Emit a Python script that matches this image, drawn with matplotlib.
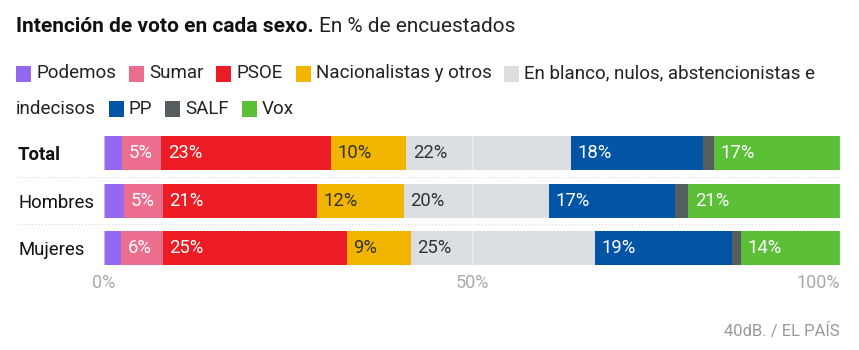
import matplotlib
matplotlib.use("Agg")
import matplotlib.pyplot as plt
from matplotlib.patches import Rectangle

plt.rcParams['font.family'] = ['Roboto', 'DejaVu Sans']

# ---- data ----
groups = ["Total", "Hombres", "Mujeres"]
parties = ["Podemos", "Sumar", "PSOE", "Nacionalistas y otros",
           "En blanco, nulos, abstencionistas e indecisos", "PP", "SALF", "Vox"]
colors = ["#9468f0", "#ec6e8f", "#ec1c24", "#f1b500",
          "#dcdfe2", "#0254a4", "#565d5f", "#5bbf37"]
total = [2.4, 5.4, 23.0, 10.3, 22.4, 17.9, 1.5, 17.1]
hombres = [2.7, 5.3, 20.9, 11.8, 19.8, 17.1, 1.8, 20.6]
mujeres = [2.3, 5.7, 25.0, 8.7, 25.0, 18.6, 1.2, 13.5]
values = [total, hombres, mujeres]
ticks = [0, 50, 100]
tick_labels = ["0%", "50%", "100%"]
title_bold = "Intención de voto en cada sexo."
title_rest = "En % de encuestados"
source = "40dB. / EL PAÍS"

W, H = 859, 350
fig = plt.figure(figsize=(W / 100, H / 100), dpi=100)
fig.patch.set_facecolor("white")


def fx(px):
    return px / W


def fy(py):
    return 1 - py / H


ax_top, ax_bot = 130, 272
ax = fig.add_axes([fx(104), fy(ax_bot), fx(840) - fx(104), fy(ax_top) - fy(ax_bot)])
row_step = 47.5
first_center = 153
ax.set_xlim(0, 100)
ax.set_ylim(2 + (ax_bot - (first_center + 2 * row_step)) / row_step,
            -(first_center - ax_top) / row_step)

LABEL_FS = 13.3
dark_text = {"#f1b500", "#dcdfe2"}
for i, row in enumerate(values):
    left = 0
    for v, c in zip(row, colors):
        ax.barh(i, v, left=left, height=34 / row_step, color=c, linewidth=0, zorder=2)
        if v >= 3:
            tc = "#333333" if c in dark_text else "white"
            ax.text(left + 0.9, i, f"{v:.0f}%", ha="left", va="center",
                    color=tc, fontsize=LABEL_FS, zorder=4)
        left += v

for t in ticks:
    ax.axvline(t, color="white", alpha=0.45, lw=1, zorder=3)

for yv in [0.5, 1.5]:
    ax.plot([-11.7, 100], [yv, yv], color="#d8d8d8", lw=0.8,
            linestyle=(0, (1, 2)), clip_on=False, zorder=1)

for s in ax.spines.values():
    s.set_visible(False)
ax.set_xticks(ticks, tick_labels)
ax.tick_params(axis="x", length=0, pad=1.5, labelsize=13, labelcolor="#aaaaaa")
xl = ax.get_xticklabels()
xl[-1].set_ha("right")
ax.set_yticks(range(len(groups)), groups)
ax.tick_params(axis="y", length=0, pad=(104 - 18) * 0.72, labelsize=13.3,
               labelcolor="#111111")
for lbl in ax.get_yticklabels():
    lbl.set_ha("left")
    if lbl.get_text() == "Total":
        lbl.set_fontweight("bold")

# ---- title ----
renderer = fig.canvas.get_renderer()
TFS = 15
tb = fig.text(fx(16), fy(26), title_bold, fontsize=TFS, fontweight="bold",
              color="#111111", va="center", ha="left")
wb = tb.get_window_extent(renderer).width
fig.text(fx(16 + wb + 5), fy(26), title_rest, fontsize=TFS, color="#222222",
         va="center", ha="left")

# ---- legend (flow layout) ----
LFS = 13.5


def text_w(s):
    t = fig.text(0, 0, s, fontsize=LFS)
    w = t.get_window_extent(renderer).width
    t.remove()
    return w


x0, maxx = 16, 843
line_y = [73.5, 108.5]
line = 0
x = x0
sq_w, sq_h, sq_gap, item_gap = 15, 16, 5, 13


def put_text(s, xpos, ln):
    fig.text(fx(xpos), fy(line_y[ln]), s, fontsize=LFS, color="#222222",
             va="center", ha="left")


for name, c in zip(parties, colors):
    if x + sq_w + sq_gap + text_w(name.split()[0]) > maxx:
        line += 1
        x = x0
    fig.patches.append(Rectangle((fx(x), fy(line_y[line] + sq_h / 2)), fx(sq_w),
                                 sq_h / H, transform=fig.transFigure,
                                 facecolor=c, edgecolor="none"))
    start = x + sq_w + sq_gap
    cur = ""
    for w in name.split():
        cand = (cur + " " + w) if cur else w
        if cur and start + text_w(cand) > maxx:
            put_text(cur, start, line)
            line += 1
            start = x0
            cur = w
        else:
            cur = cand
    put_text(cur, start, line)
    x = start + text_w(cur) + item_gap

fig.text(fx(840), fy(331), source, fontsize=12, color="#999999",
         ha="right", va="center")

fig.savefig("out.png", dpi=100, facecolor="white")
